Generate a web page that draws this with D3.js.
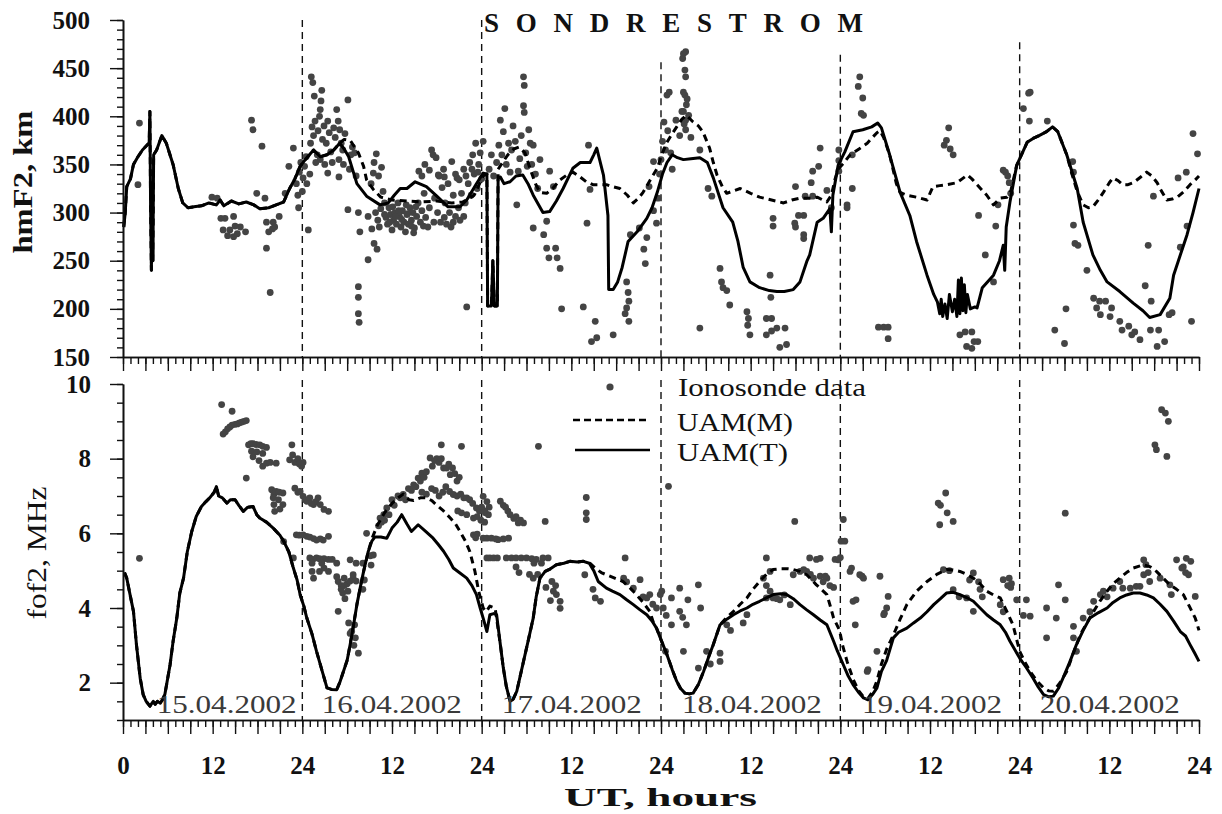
<!DOCTYPE html>
<html>
<head>
<meta charset="utf-8">
<script src="https://cdn.jsdelivr.net/npm/d3@7"></script>
<style>
  html,body{margin:0;padding:0;background:#fff;}
  svg{display:block;}
  text{font-family:'Liberation Serif','Times New Roman',serif;}
</style>
</head>
<body>
<svg id="chart" width="1222" height="814"></svg>
<script>
// ---------------- DATA ----------------
const dayBoundaries = [24, 48, 72, 96, 120];
const dayLineTopKm = [500, 500, 456, 464, 477];
const dateLabels = ["15.04.2002","16.04.2002","17.04.2002","18.04.2002","19.04.2002","20.04.2002"];
const dateLabelHours = [4.5, 26.6, 50.7, 74.8, 98.9, 122.7];
const xLabelHours = [0,12,24,36,48,60,72,84,96,108,120,132,144];
const hmTicks = [150,200,250,300,350,400,450,500];
const foTicks = [2,4,6,8,10];

// UAM(T) hmF2 [UT hour, km]
const uamT_hmF2 = [
[0.1,285],[0.3,300],[0.5,327],[1.0,335],[1.4,350],[2.0,358],[2.6,365],[3.2,370],[3.5,372],[3.6,405],[3.7,300],[3.8,240],[3.9,330],[4.0,250],[4.1,360],[4.5,365],[5.2,380],[5.8,372],[6.7,350],[7.4,325],[8.0,310],[8.7,305],[9.5,306],[10.5,307],[11.5,310],[12.5,308],[13.0,313],[13.5,307],[14.5,312],[15.5,309],[16.5,311],[17.5,308],[18.3,304],[19.5,305],[20.5,308],[21.5,311],[22.3,325],[23.0,335],[23.7,348],[24.5,356],[25.5,365],[26.4,358],[27.3,360],[28.2,365],[29.0,372],
[29.6,366],[30.2,358],[31.3,330],[32.6,317],[34.4,308],[35.5,310],[36.3,318],[37.1,325],[38.0,325],[39.1,332],[40.6,327],[42.0,317],[43.5,306],[45.1,306],[46.0,313],[47.3,330],[48.2,341],[48.7,340],[48.8,203],[49.3,203],[49.5,250],[49.7,203],[50.1,203],[50.2,336],[50.5,337],[51.0,330],[51.8,332],[52.6,338],[53.5,339],[54.2,330],[54.9,318],[56.2,300],[57.1,301],[58.0,312],[58.9,325],[60.2,346],[61.2,352],[62.5,352],[63.0,360],[63.4,367],[64.3,339],[64.9,297],[65.0,220],[65.6,220],[66.2,228],[66.8,243],[67.6,270],[68.8,280],[70.1,294],[70.8,305],[71.5,321],[72.2,340],[72.8,352],[73.5,360],[74.2,357],[75.0,355],[76.0,356],[77.2,357],[78.2,352],[79.0,336],[80.3,305],[81.6,290],[82.3,270],[83.0,243],[83.9,228],[85.2,222],[86.5,219],[87.5,218],[88.5,218],[89.7,220],[90.6,228],[91.5,249],[91.9,256],[92.9,290],[93.7,294],[94.6,304],[94.8,280],[95.0,318],[95.7,349],[96.6,363],[97.7,384],[99.0,386],[100.2,389],[101.0,393],[101.5,388],[102.6,360],[104.0,321],[105.3,297],[106.2,270],[107.6,235],[108.5,215],[109.0,207],[109.3,195],[109.5,210],[109.7,192],[110.0,205],[110.3,190],[110.6,215],[111.0,197],[111.3,210],[111.6,192],[111.8,230],[112.0,195],[112.2,232],[112.4,198],[112.6,225],[112.8,196],[113.0,215],[113.4,200],[114.0,202],[114.3,201],[115.0,222],[116.5,235],[117.3,250],[117.8,266],[118.0,240],[118.2,285],[118.7,311],[119.6,349],[121.0,373],[121.8,377],[122.6,380],[123.6,384],[124.4,389],[125.1,384],[126.3,360],[127.7,325],[128.5,290],[129.8,256],[130.8,240],[131.7,228],[133.4,218],[135.2,206],[136.5,198],[137.4,191],[138.8,194],[140.1,211],[140.6,235],[141.2,249],[142.4,277],[143.2,300],[144,325]
];

// UAM(M) hmF2
const uamM_hmF2 = [
[0.1,285],[0.3,300],[0.5,327],[1.0,335],[1.4,350],[2.0,358],[2.6,365],[3.2,370],[3.5,372],[3.6,405],[3.7,300],[3.8,240],[3.9,330],[4.0,250],[4.1,360],[4.5,365],[5.2,380],[5.8,372],[6.7,350],[7.4,325],[8.0,310],[8.7,305],[9.5,306],[10.5,307],[11.5,310],[12.5,308],[13.0,313],[13.5,307],[14.5,312],[15.5,309],[16.5,311],[17.5,308],[18.3,304],[19.5,305],[20.5,308],[21.5,311],[22.3,325],[23.0,335],[23.7,348],[24.5,356],[25.5,365],[26.4,358],[27.3,360],[28.2,365],[29.0,372],
[29.6,376],[30.4,375],[31.5,362],[32.2,348],[32.6,334],[33.5,324],[34.5,316],[36.0,313],[38.0,312],[40.0,311],[42.0,312],[44.0,310],[45.5,311],[47.0,318],[48.2,338],[48.7,340],[48.8,203],[49.3,203],[49.5,250],[49.7,203],[50.1,203],[50.2,345],[50.8,352],[51.5,360],[52.3,366],[53.0,368],[53.8,362],[54.5,345],[55.2,330],[55.8,321],[56.7,320],[57.5,325],[58.5,334],[59.4,339],[60.2,342],[61.0,338],[62.0,332],[62.9,329],[64.0,329],[64.7,329],[65.5,327],[66.5,325],[67.5,318],[68.3,310],[69.0,315],[69.6,321],[70.5,333],[71.5,346],[72.2,362],[72.8,373],[73.5,382],[74.1,389],[74.8,397],[75.4,401],[76.3,394],[77.0,390],[77.6,384],[78.5,367],[79.0,352],[79.5,339],[80.2,327],[80.8,320],[81.5,322],[82.6,325],[84.0,320],[85.2,316],[86.8,313],[88.4,310],[89.5,313],[90.6,315],[92.0,315],[92.9,316],[94.2,311],[94.8,318],[95.3,335],[95.7,345],[96.5,352],[97.3,360],[98.5,366],[99.6,372],[100.3,378],[100.9,383],[101.3,385],[101.8,378],[102.6,360],[103.5,330],[104.0,321],[104.9,318],[106.2,316],[107.6,313],[108.4,327],[109.3,328],[110.3,329],[111.6,331],[112.3,335],[113.0,339],[113.6,335],[114.3,329],[115.0,323],[115.6,318],[116.5,308],[117.4,315],[118.3,316],[118.8,322],[119.6,349],[121.0,373],[121.8,377],[122.6,380],[123.6,384],[124.4,389],[125.1,384],[126.3,360],[127.0,340],[127.7,322],[128.5,308],[129.2,305],[129.8,306],[130.5,313],[131.2,321],[132.0,331],[132.5,336],[133.2,333],[133.8,329],[134.5,329],[135.2,331],[136.2,337],[137.0,342],[137.7,338],[138.4,331],[139.0,322],[139.7,313],[140.4,314],[141.1,316],[142.0,322],[142.8,329],[143.5,334],[144,338]
];

// Ionosonde hmF2
const iono_hmF2 = [
[2.2,393],[2.0,329],
[11.9,316],[12.6,315],[13.1,294],[13.65,294],[14.8,296],[13.4,282],[14.3,282],[14.8,275],[15.3,278],[15.7,285],[16.4,280],[14.0,276],[15.0,286],
[17.2,396],[17.4,386],[18.6,369],[17.9,320],[19.0,315],[19.2,290],[20.1,290],[20.3,285],[20.9,296],[19.2,263],[19.7,217],[19.5,280],[20.0,283],[21.7,320],[22.2,348],[22.8,367],
[23.2,330],[23.4,318],[23.5,305],[23.6,342],[23.8,352],[24.0,322],[24.1,336],[24.3,348],[24.5,358],[24.6,330],[24.8,282],[25.0,340],[25.1,372],[25.2,441],[25.3,389],[25.4,435],[25.5,380],[25.6,421],[25.7,395],[25.8,352],[26.0,360],[26.1,385],[26.3,400],[26.4,407],[26.5,416],[26.6,427],[26.7,376],[26.9,390],[27.0,350],[27.2,372],[27.4,395],[27.6,383],[27.8,363],[28.0,352],[28.2,388],[28.4,378],[28.6,407],[28.8,395],[29.0,386],[29.2,372],[29.4,365],[29.5,350],[29.7,382],[30.1,417],[30.3,345],[30.5,360],[30.7,368],[31.0,362],[31.2,338],[26.4,355],[27.4,341],[28.9,355],[28.9,337],
[30.1,303],[31.5,300],[31.7,280],[31.5,223],[31.5,212],[31.5,195],[31.6,186],
[32.8,296],[32.8,251],[33.2,330],[33.5,341],[33.6,352],[33.9,361],[34.2,338],[34.6,347],[34.8,322],[35.0,310],[35.2,295],[35.4,288],[35.6,305],[35.8,298],[36.0,282],[36.2,292],[36.4,300],[36.6,288],[36.8,310],[37.0,296],[37.2,285],[37.4,302],[37.6,290],[37.8,280],[38.0,298],[38.2,288],[38.4,305],[38.6,292],[38.8,300],[39.0,284],[39.3,296],[39.5,310],[39.8,290],[40.0,302],[36.1,306],[37.9,308],[38.9,279],
[33.8,300],[34.1,292],[34.5,304],[35.0,298],[35.7,290],[36.5,296],[37.3,293],[38.1,299],[38.6,286],[39.2,306],[34.3,285],[36.9,302],[33.6,268],[34.0,262],[33.3,283],
[40.3,320],[40.5,295],[40.8,285],[41.0,305],[41.3,365],[41.5,360],[41.7,315],[41.9,357],[42.1,300],[42.3,338],[42.5,290],[42.7,326],[42.9,345],[43.1,310],[43.3,288],[43.5,330],[43.7,300],[43.9,285],[44.0,353],[44.2,318],[44.5,296],[44.7,336],[44.9,305],[45.1,292],[45.3,320],[45.6,345],[45.8,310],[46.0,202],[46.2,330],[46.4,352],[46.6,318],[46.8,360],[47.0,340],[47.2,372],[47.4,325],[47.6,350],[47.8,362],[48.0,335],[48.2,374],
[39.6,343],[40.0,338],[40.4,350],[41.0,344],[42.2,339],[43.0,337],[44.5,340],[45.0,334],[45.9,338],[46.7,345],[47.5,342],[40.2,286],[41.6,290],[43.0,295],[44.2,290],[45.6,296],
[49.0,345],[49.3,360],[49.6,338],[50.0,352],[50.3,370],[50.5,396],[50.7,360],[50.9,384],[51.1,408],[51.3,350],[51.6,372],[51.8,342],[52.0,365],[52.2,390],[52.5,374],[52.7,308],[52.9,343],[53.1,356],[53.3,380],[53.6,441],[53.7,432],[53.6,411],[53.7,404],[53.9,362],[54.1,348],[54.3,386],[54.5,372],[54.7,350],[54.9,370],[54.9,284],[55.2,340],[55.5,325],[55.8,355],
[56.3,277],[56.7,291],[56.7,263],[57.0,253],[57.1,343],[57.6,327],[57.9,263],[58.1,253],[58.5,242],[58.7,200],[61.6,202],[62.3,370],[62.5,324],[62.1,289],[63.2,187],[62.7,166],[63.4,170],[65.6,173],
[67.4,228],[67.6,217],[67.7,208],[67.4,201],[67.2,195],[67.7,187],[67.9,277],[69.1,284],[70.1,274],[69.9,247],[69.7,262],[71.0,353],[71.0,302],[71.4,289],[70.4,327],[71.6,315],
[71.8,340],[72.0,355],[72.2,374],[72.4,394],[72.6,365],[72.8,422],[72.9,385],[73.1,425],[73.3,362],[73.5,345],[74.0,396],[74.5,380],[74.8,405],[75.0,465],[75.3,467],[74.9,460],[75.2,448],[75.3,441],[75.2,422],[75.0,425],[75.5,418],[75.4,412],[75.0,405],[75.3,396],[75.7,401],[75.3,386],[75.1,392],[76.0,378],[77.2,365],[78.3,325],[78.8,317],[77.2,180],
[79.9,242],[80.1,228],[80.3,222],[80.8,219],[81.2,204],[83.5,197],[83.7,190],[83.6,183],[83.9,173],[86.1,190],[86.8,190],[86.1,173],[86.8,177],[87.5,180],[88.6,180],[88.8,163],[87.9,160],[86.6,235],[86.7,212],[87.0,294],[87.0,286],[90.0,327],[89.9,289],[90.0,285],[90.4,297],[91.1,273],[92.1,331],
[93.3,367],[93.1,348],[92.3,343],[91.3,317],[92.3,317],[91.1,297],[91.1,277],[94.2,323],[94.8,305],[95.8,365],[95.8,354],[95.8,343],[96.9,308],[96.9,305],[97.6,360],[97.6,325],[98.6,441],[98.4,431],[99.0,419],[98.8,403],[99.1,401],[101.1,181],[101.8,181],[102.4,181],[102.4,169],
[110.5,388],[110.2,375],[109.9,370],[110.7,366],[111.1,360],[112.0,173],[112.7,176],[113.6,176],[113.9,166],[112.9,161],[113.6,159],[114.4,166],[114.5,297],[115.4,256],[116.5,228],[116.8,286],[117.1,308],[117.8,344],[118.1,342],[118.4,338],[118.6,331],[118.8,320],[120.5,408],[121.2,424],[121.4,425],[121.3,395],[123.7,395],[124.7,178],[126.0,164],[126.2,200],[127.2,287],[127.4,268],[127.8,266],[127.1,353],[127.2,342],
[129.0,240],[129.9,211],[130.7,208],[130.3,201],[130.8,194],[131.5,208],[132.3,201],[132.1,192],[133.4,187],[133.7,178],[134.6,182],[135.0,173],[135.4,176],[136.1,168],[137.5,178],[138.6,178],[138.4,161],[139.4,166],[137.2,266],[136.8,224],[137.6,208],[140.0,194],[140.4,196],[143.0,187],[141.2,336],[142.3,342],[143.2,382],[143.8,361],[142.4,286],[141.5,264],[137.9,317]
];

// UAM(T) foF2 [UT hour, MHz]
const uamT_foF2 = [
[0.2,4.95],[0.5,4.8],[0.9,4.4],[1.4,3.91],[1.8,3.02],[2.3,2.12],[2.7,1.68],[3.1,1.5],[3.6,1.37],[4.05,1.5],[4.3,1.42],[4.6,1.5],[5.0,1.45],[5.3,1.55],[5.6,1.68],[6.3,2.48],[6.7,3.1],[7.2,3.73],[7.6,4.4],[8.1,4.8],[8.6,5.5],[9.2,6.05],[9.8,6.45],[10.5,6.72],[11.1,6.85],[11.6,6.95],[12.2,7.1],[12.5,7.25],[12.8,7.0],[13.3,6.95],[13.9,6.81],[14.4,6.9],[15.0,6.9],[15.5,6.75],[16.1,6.59],[16.7,6.7],[17.4,6.72],[17.9,6.5],[18.3,6.41],[19.2,6.3],[20.1,6.14],[21.0,5.95],[21.5,5.79],[22.2,5.5],[22.8,5.07],[23.3,4.75],[23.7,4.36],[24.2,4.05],[24.6,3.73],[25.3,3.3],[25.9,2.84],[26.6,2.35],[27.3,1.86],[27.9,1.82],[28.6,1.81],[29.0,2.0],[29.5,2.3],[30.0,2.6],[30.4,3.02],[30.9,3.6],[31.3,4.09],[31.8,4.6],[32.2,4.98],
[32.8,5.5],[33.3,5.79],[33.7,5.9],[34.5,5.9],[35.3,5.87],[36.0,6.14],[36.7,6.3],[37.3,6.5],[38.0,6.25],[38.6,6.05],[39.5,6.23],[40.5,6.05],[41.5,5.87],[42.2,5.7],[42.9,5.52],[43.6,5.3],[44.2,5.07],[45.0,4.95],[46.0,4.8],[46.7,4.6],[47.3,4.36],[47.8,4.0],[48.2,3.73],[48.7,3.37],[49.1,3.82],[49.6,3.85],[50.0,3.82],
[50.5,3.02],[50.9,2.39],[51.3,1.9],[51.8,1.5],[52.2,1.55],[52.7,1.77],[53.6,2.57],[54.2,3.1],[54.9,3.73],[55.3,4.3],[55.8,4.8],[56.5,4.98],[57.2,5.05],[58.0,5.16],[59.0,5.2],[59.8,5.25],[60.8,5.23],[61.6,5.25],[62.4,5.2],
[63.0,5.0],[63.6,4.71],[64.7,4.53],[65.5,4.45],[66.5,4.36],[67.4,4.22],[68.3,4.09],[69.2,3.95],[70.1,3.82],[70.8,3.65],[71.4,3.46],
[72.1,3.1],[72.8,2.75],[73.5,2.35],[74.1,2.04],[74.6,1.85],[75.2,1.72],[75.8,1.7],[76.3,1.72],[77.0,1.95],[77.7,2.3],[78.4,2.7],[79.0,3.02],[79.9,3.55],
[80.8,3.7],[81.7,3.82],[82.6,3.92],[83.5,4.0],[84.3,4.1],[85.2,4.18],[86.1,4.27],[87.0,4.36],[88.0,4.38],[88.8,4.36],[89.7,4.25],[90.6,4.09],[91.5,3.95],[92.4,3.82],[93.3,3.68],[94.2,3.55],[95.1,3.11],[95.6,2.85],[96.4,2.48],[97.0,2.2],[97.7,1.95],[98.4,1.75],[99.1,1.59],[99.7,1.54],[100.3,1.68],[100.9,1.86],[101.5,2.3],[102.2,2.6],[103.1,3.2],[103.8,3.35],[104.9,3.46],[105.8,3.6],[106.7,3.73],[107.6,3.9],[108.5,4.09],[109.4,4.25],[110.2,4.4],[111.1,4.42],[112.0,4.36],[112.9,4.28],[113.8,4.18],[114.7,4.0],[115.6,3.82],[116.5,3.68],[117.4,3.55],[118.1,3.35],[118.7,3.11],[119.3,2.9],[120.0,2.66],[120.9,2.4],[121.8,2.12],[122.5,1.88],[123.2,1.68],[123.9,1.62],[124.5,1.64],[125.2,1.85],[125.8,2.12],[126.7,2.55],[127.6,3.02],[128.5,3.4],[129.4,3.73],[130.5,3.87],[131.7,4.0],[132.5,4.15],[133.4,4.27],[134.3,4.35],[135.2,4.4],[136.1,4.4],[137.0,4.35],[137.9,4.27],[138.8,4.1],[139.7,3.91],[140.6,3.65],[141.5,3.37],[142.2,3.25],[142.8,3.02],[143.4,2.8],[144,2.57]
];

// UAM(M) foF2
const uamM_foF2 = [
[0.2,4.95],[0.5,4.8],[0.9,4.4],[1.4,3.91],[1.8,3.02],[2.3,2.12],[2.7,1.68],[3.1,1.5],[3.6,1.37],[4.05,1.5],[4.3,1.42],[4.6,1.5],[5.0,1.45],[5.3,1.55],[5.6,1.68],[6.3,2.48],[6.7,3.1],[7.2,3.73],[7.6,4.4],[8.1,4.8],[8.6,5.5],[9.2,6.05],[9.8,6.45],[10.5,6.72],[11.1,6.85],[11.6,6.95],[12.2,7.1],[12.5,7.25],[12.8,7.0],[13.3,6.95],[13.9,6.81],[14.4,6.9],[15.0,6.9],[15.5,6.75],[16.1,6.59],[16.7,6.7],[17.4,6.72],[17.9,6.5],[18.3,6.41],[19.2,6.3],[20.1,6.14],[21.0,5.95],[21.5,5.79],[22.2,5.5],[22.8,5.07],[23.3,4.75],[23.7,4.36],[24.2,4.05],[24.6,3.73],[25.3,3.3],[25.9,2.84],[26.6,2.35],[27.3,1.86],[27.9,1.82],[28.6,1.81],[29.0,2.0],[29.5,2.3],[30.0,2.6],[30.4,3.02],[30.9,3.6],[31.3,4.09],[31.8,4.6],[32.2,4.98],
[32.8,5.5],[33.3,5.85],[34.0,6.2],[35.0,6.55],[36.0,6.8],[36.8,6.95],[37.5,7.05],[38.3,6.9],[38.9,6.88],[39.8,6.95],[40.6,6.95],[41.3,6.88],[41.9,6.77],[42.9,6.6],[43.8,6.41],[44.5,6.25],[45.1,6.05],[45.8,5.8],[46.4,5.52],[47.1,4.98],[47.6,4.45],[48.2,4.0],[48.6,3.9],[49.1,4.05],[49.8,4.0],
[50.5,3.02],[50.9,2.39],[51.3,1.9],[51.8,1.5],[52.2,1.55],[52.7,1.77],[53.6,2.57],[54.2,3.1],[54.9,3.73],[55.3,4.3],[55.8,4.8],[56.5,4.98],[57.2,5.05],[58.0,5.16],[59.0,5.2],[59.8,5.25],[60.8,5.23],[61.6,5.25],[62.4,5.22],
[63.3,5.05],[64.0,4.95],[64.7,4.89],[65.8,4.8],[66.9,4.71],[67.8,4.55],[68.7,4.36],[69.6,4.15],[70.5,3.91],[71.0,3.6],[71.4,3.46],
[72.1,3.1],[72.8,2.75],[73.5,2.35],[74.1,2.04],[74.6,1.85],[75.2,1.72],[75.8,1.7],[76.3,1.72],[77.0,1.95],[77.7,2.3],[78.4,2.7],[79.0,3.02],[79.9,3.55],
[80.8,3.75],[81.7,3.91],[82.6,4.1],[83.5,4.27],[84.3,4.5],[85.2,4.71],[86.1,4.9],[87.0,5.03],[88.0,5.05],[89.0,5.05],[89.7,5.03],[90.6,4.98],[91.5,4.89],[92.8,4.62],[93.3,4.53],[94.2,4.36],[94.6,4.09],[95.1,3.73],[95.9,3.4],[96.3,3.0],[96.9,2.57],[97.7,2.1],[98.4,1.8],[99.1,1.62],[99.7,1.58],[100.3,1.75],[100.9,2.05],[101.5,2.5],[102.2,2.9],[103.1,3.28],[104.0,3.7],[104.9,4.09],[106.2,4.45],[107.6,4.71],[108.9,4.9],[110.2,5.03],[111.1,5.02],[112.0,4.98],[112.9,4.9],[113.8,4.8],[114.7,4.65],[115.6,4.45],[116.5,4.35],[117.4,4.27],[118.3,3.9],[119.1,3.55],[120.0,2.84],[120.7,2.55],[121.4,2.3],[122.3,2.05],[123.2,1.86],[123.9,1.78],[124.5,1.77],[125.4,2.0],[126.3,2.3],[127.2,2.8],[128.1,3.28],[129.0,3.6],[129.9,3.91],[130.8,4.2],[131.7,4.45],[132.5,4.65],[133.4,4.8],[134.3,4.95],[135.2,5.07],[136.0,5.12],[136.6,5.16],[137.5,5.1],[138.3,4.98],[139.2,4.8],[140.1,4.62],[141.0,4.5],[141.9,4.36],[142.7,4.05],[143.5,3.73],[144,3.4]
];

// Ionosonde foF2
const iono_foF2 = [
[2.2,5.33],
[13.2,9.45],[14.6,9.27],[13.4,8.66],[13.7,8.72],[14.0,8.8],[14.3,8.85],[14.6,8.9],[15.0,8.92],[15.3,8.93],[15.6,8.96],[15.9,8.98],[16.2,9.0],[16.5,9.02],
[16.5,7.48],[16.8,8.37],[17.1,8.4],[17.4,8.4],[17.8,8.38],[18.3,8.37],[18.7,8.33],[19.2,8.3],[17.2,8.2],[17.4,8.05],[17.9,8.18],[18.2,7.95],[18.7,8.14],[18.7,7.8],[19.2,7.88],[20.5,7.88],[19.7,7.9],
[19.9,7.17],[20.2,7.05],[20.5,7.12],[20.9,7.1],[21.4,7.08],[20.1,6.95],[20.8,6.9],[20.2,6.77],[21.4,6.77],[20.3,6.59],[21.0,6.65],
[22.3,7.97],[22.6,8.37],[22.7,8.1],[23.0,7.9],[23.4,8.0],[23.6,7.86],[23.9,7.8],[24.1,7.9],
[23.0,7.21],[23.4,7.1],[23.7,7.12],[24.1,6.99],[24.4,6.9],[24.6,6.86],[25.0,6.95],[25.5,6.77],[25.8,6.85],[26.1,6.95],[26.4,6.77],[26.9,6.64],[27.5,6.59],[25.2,6.8],
[21.5,5.78],[22.8,5.34],[23.2,5.96],[23.6,5.95],[24.1,5.96],[24.6,5.92],[25.0,5.9],[25.9,5.82],[26.4,5.85],[26.8,5.82],[27.5,5.92],[25.5,5.86],
[25.0,5.34],[25.4,5.3],[25.9,5.34],[26.3,5.32],[26.9,5.32],[27.5,5.3],[28.0,5.3],[28.6,5.2],[25.3,5.2],[26.6,5.2],
[25.3,4.98],[25.5,4.8],[26.3,4.98],[26.9,5.07],[27.5,4.98],
[28.8,4.71],[29.2,4.6],[29.6,4.8],[30.0,4.65],[30.4,4.72],[30.8,4.8],[29.4,4.4],[29.7,4.25],[30.1,4.45],[31.2,4.72],[30.8,4.89],[28.6,4.84],[29.2,4.5],[29.6,4.6],
[30.4,5.29],[31.2,5.2],[32.1,5.2],[33.5,5.42],[32.3,4.75],[32.1,4.5],
[28.8,3.91],[30.2,3.6],[31.0,3.55],[30.6,3.37],[31.1,3.2],[30.4,3.32],[31.5,2.79],[30.9,3.0],
[32.6,6.0],[33.1,5.4],[33.2,5.15],
[34.2,6.2],[34.4,6.41],[34.6,6.3],[34.9,6.5],[35.3,6.68],[35.6,6.5],[35.0,6.35],[36.0,6.9],[36.3,6.75],[36.8,7.0],[37.1,6.95],[37.5,7.04],[37.8,6.9],[38.2,7.2],[38.6,7.15],[38.9,7.3],[39.2,7.25],[39.5,7.48],[39.8,7.4],[40.0,7.61],[40.3,7.5],[40.6,7.65],[41.1,8.02],[41.4,7.8],[41.7,7.95],[42.0,8.0],[42.3,7.9],[42.6,8.37],[42.6,8.0],[42.9,7.75],[43.3,7.75],[43.6,7.85],[43.8,7.57],[44.1,7.75],[44.4,7.6],[45.3,8.33],[44.7,7.4],[45.0,7.5],
[40.0,7.1],[40.6,7.05],[41.3,7.2],[41.8,7.15],[42.3,7.0],[42.8,7.1],[43.2,7.25],[43.7,7.12],[44.2,7.04],[44.7,7.0],[45.2,7.05],[45.6,6.95],[46.0,6.95],[46.4,6.9],[46.8,6.8],[47.3,6.68],[47.7,6.6],[48.0,6.7],[48.5,6.55],
[44.8,6.6],[45.3,6.55],[46.0,6.5],[46.9,6.41],[47.4,6.45],[47.9,6.35],[48.4,6.3],
[46.9,5.96],[47.4,5.98],[47.2,5.88],[48.2,5.87],[48.7,5.87],[49.3,5.87],[49.9,5.85],[50.2,5.83],[50.9,5.85],[51.6,5.87],
[48.7,5.34],[49.1,5.34],[49.6,5.34],[50.1,5.34],[51.3,5.34],[52.0,5.34],[52.6,5.34],[53.3,5.34],[54.0,5.34],[54.7,5.32],[55.3,5.3],[56.2,5.34],[56.9,5.34],[55.0,5.2],[56.0,5.2],
[48.2,6.99],[48.7,6.85],[49.0,6.7],[48.9,6.5],[48.4,6.6],[50.5,6.86],[50.9,6.75],[51.5,6.6],[51.8,6.5],[52.3,6.4],[52.9,6.28],[53.6,6.28],[53.2,6.35],[51.2,6.7],[52.6,6.45],
[52.6,5.1],[53.0,4.95],[54.9,4.8],[54.4,4.9],[55.5,4.9],[57.4,4.71],[57.6,4.45],[58.0,4.36],[57.2,4.2],[58.5,4.18],[58.5,3.99],[57.9,4.6],[56.6,4.55],
[55.6,8.33],[56.5,6.32],
[62.0,6.96],[62.0,6.55],[62.0,6.37],
[61.8,4.89],[63.2,4.27],[63.9,4.18],[62.9,4.5],
[67.2,5.34],[67.0,4.8],[67.4,4.7],[68.3,4.53],[69.2,4.76],[69.6,4.3],[70.1,4.27],[70.5,4.36],[70.9,4.1],[71.4,4.0],[71.9,4.36],[72.1,4.45],[72.3,4.0],[72.7,3.8],
[73.4,4.27],[74.5,4.53],[73.4,3.55],[74.5,3.91],[74.9,3.75],[75.4,3.55],[77.0,4.62],[75.6,4.22],[77.3,4.0],[75.0,2.84],[77.0,2.39],[78.1,2.84],[79.9,2.79],[79.9,2.57],[78.6,2.5],[72.6,2.84],
[73.0,7.26],
[80.8,3.55],[81.3,3.4],[83.5,3.82],[83.0,3.6],
[86.1,5.34],[85.7,4.8],[86.1,4.6],[86.6,4.45],[86.1,4.27],[87.0,4.27],[87.9,4.22],[89.3,4.09],[88.5,4.35],[86.6,4.98],[87.5,4.25],
[89.9,6.32],
[89.7,4.89],[90.6,4.98],[91.5,4.98],[92.4,4.8],[93.3,4.85],[94.2,4.8],[94.6,4.6],[95.1,4.55],[91.9,5.34],[93.3,5.33],[92.8,5.3],[91.1,5.03],[92.0,4.9],[93.7,4.7],[94.0,4.85],
[95.7,5.29],[95.3,5.3],[96.1,5.79],[96.6,5.79],[96.4,6.37],[96.0,5.35],
[97.7,4.18],[98.0,3.55],[97.3,4.98],[97.5,5.07],[98.6,4.89],[98.9,4.85],[99.1,4.8],[101.3,4.85],[102.2,4.0],[102.4,4.31],[101.9,3.86],[101.8,3.82],[99.6,2.3],[99.7,2.35],[100.9,2.84],[98.1,4.22],
[109.1,6.81],[110.1,7.08],[110.3,6.55],[111.1,6.32],[109.3,6.23],[109.4,6.75],
[109.8,5.03],[110.6,5.0],[111.1,4.49],[111.9,4.3],[112.9,4.27],[113.8,4.94],[114.5,4.7],[114.7,4.5],[113.8,3.91],[115.0,4.3],[113.3,4.75],
[117.8,4.76],[118.4,4.6],[118.8,4.55],[117.4,4.09],[117.8,3.9],[118.6,4.8],[118.9,4.65],
[119.6,4.22],[120.9,4.22],[121.4,3.78],[120.5,3.8],
[123.6,4.0],[123.6,3.2],[124.9,3.73],[125.2,4.62],[126.1,4.22],[126.1,6.54],
[127.2,3.51],[127.6,2.84],[127.2,3.2],
[128.5,3.73],[129.4,3.9],[129.9,4.18],[130.8,4.36],[131.2,4.45],[131.7,4.3],[132.5,4.53],[133.4,4.71],[133.8,4.53],[134.8,4.53],[135.6,4.58],[136.1,4.58],[136.6,4.89],[136.9,5.16],[136.6,5.29],[137.2,4.95],[137.4,4.71],[138.8,4.8],[140.1,4.62],[140.3,4.36],[141.0,5.29],[141.7,5.07],[142.3,5.33],[142.9,5.25],[142.6,4.89],[143.5,4.31],[141.9,5.1],[142.2,4.95],
[139.0,9.31],[139.5,9.22],[139.9,9.0],[138.1,8.37],[138.3,8.24],[139.7,8.06]
];

// ---------------- CHART ----------------
const svg = d3.select("#chart");
const FONT = "'Liberation Serif','Times New Roman',serif";

const x = d3.scaleLinear().domain([0,144]).range([123,1199]);
const yT = d3.scaleLinear().domain([150,500]).range([357,20]);
const yB = d3.scaleLinear().domain([1,10]).range([720,384]);

const lineT = d3.line().x(d=>x(d[0])).y(d=>yT(d[1]));
const lineB = d3.line().x(d=>x(d[0])).y(d=>yB(d[1]));

// day separator dashed lines
dayBoundaries.forEach((h,i)=>{
  svg.append("line").attr("x1",x(h)).attr("x2",x(h))
    .attr("y1",yT(dayLineTopKm[i])).attr("y2",yT(150))
    .attr("stroke","#111").attr("stroke-width",1.4).attr("stroke-dasharray","7,5");
  svg.append("line").attr("x1",x(h)).attr("x2",x(h))
    .attr("y1",yB(10)-4).attr("y2",yB(1))
    .attr("stroke","#111").attr("stroke-width",1.4).attr("stroke-dasharray","7,5");
});

// ionosonde points
svg.append("g").selectAll("circle").data(iono_hmF2).join("circle")
  .attr("cx",d=>x(d[0])).attr("cy",d=>yT(d[1])).attr("r",3.4).attr("fill","#444");
svg.append("g").selectAll("circle").data(iono_foF2).join("circle")
  .attr("cx",d=>x(d[0])).attr("cy",d=>yB(d[1])).attr("r",3.4).attr("fill","#444");

// model lines
function drawLines(M, T, gen){
  svg.append("path").datum(M).attr("d",gen).attr("fill","none")
    .attr("stroke","#000").attr("stroke-width",3).attr("stroke-dasharray","7,5").attr("stroke-linejoin","round");
  svg.append("path").datum(T).attr("d",gen).attr("fill","none")
    .attr("stroke","#000").attr("stroke-width",3).attr("stroke-linejoin","round");
}
drawLines(uamM_hmF2, uamT_hmF2, lineT);
drawLines(uamM_foF2, uamT_foF2, lineB);

// axes
function styleAxis(g){
  g.selectAll("path.domain").attr("stroke","#111").attr("stroke-width",1.6);
  g.selectAll(".tick line").attr("stroke","#111").attr("stroke-width",1.4);
  g.selectAll("text").attr("font-family",FONT).attr("font-weight","bold").attr("fill","#111");
}
const hourMinor = d3.range(0,145,1);
const hourMajor = d3.range(0,145,3);
[yT(150), yB(1)].forEach((yy,i)=>{
  svg.append("g").attr("transform",`translate(0,${yy})`)
    .call(d3.axisBottom(x).tickValues(hourMinor).tickSize(7).tickSizeOuter(0).tickFormat(""))
    .call(styleAxis);
  svg.append("g").attr("transform",`translate(0,${yy})`)
    .call(d3.axisBottom(x).tickValues(hourMajor).tickSize(14).tickSizeOuter(0).tickFormat(""))
    .call(styleAxis);
});
svg.append("g").attr("transform",`translate(0,${yB(1)})`)
  .call(d3.axisBottom(x).tickValues(xLabelHours).tickSize(0).tickSizeOuter(0).tickPadding(36)
    .tickFormat(h=> h===0 ? "0" : (h%24===0 ? "24" : "12")))
  .call(styleAxis)
  .call(g=>{g.select("path.domain").remove(); g.selectAll("text").attr("font-size",25);});

// y axes
svg.append("g").attr("transform",`translate(${x(0)},0)`)
  .call(d3.axisLeft(yT).tickValues(d3.range(150,501,10)).tickSize(6).tickSizeOuter(0).tickFormat(""))
  .call(styleAxis);
svg.append("g").attr("transform",`translate(${x(0)},0)`)
  .call(d3.axisLeft(yT).tickValues(hmTicks).tickSize(13).tickSizeOuter(0).tickPadding(20).tickFormat(d3.format("d")))
  .call(styleAxis).call(g=>g.selectAll("text").attr("font-size",25));
svg.append("g").attr("transform",`translate(${x(0)},0)`)
  .call(d3.axisLeft(yB).tickValues(d3.range(1,10.01,0.5)).tickSize(6).tickSizeOuter(0).tickFormat(""))
  .call(styleAxis);
svg.append("g").attr("transform",`translate(${x(0)},0)`)
  .call(d3.axisLeft(yB).tickValues(foTicks).tickSize(13).tickSizeOuter(0).tickPadding(19).tickFormat(d3.format("d")))
  .call(styleAxis).call(g=>g.selectAll("text").attr("font-size",25));

// date labels
svg.append("g").selectAll("text").data(dateLabels).join("text")
  .attr("x",(d,i)=>x(dateLabelHours[i])).attr("y",yB(1)-7)
  .attr("font-size",26).attr("fill","#3a3a3a")
  .attr("textLength",140).attr("lengthAdjust","spacingAndGlyphs")
  .text(d=>d);

// title
svg.append("text").attr("x",484).attr("y",32).attr("font-size",27).attr("font-weight","bold")
  .attr("textLength",379).attr("lengthAdjust","spacing").attr("fill","#111").text("SONDRESTROM");

// axis titles
svg.append("text").attr("transform","translate(32,182) rotate(-90)").attr("text-anchor","middle")
  .attr("font-size",27).attr("font-weight","bold").attr("fill","#111")
  .attr("textLength",143).attr("lengthAdjust","spacingAndGlyphs").text("hmF2, km");
svg.append("text").attr("transform","translate(46,553) rotate(-90)").attr("text-anchor","middle")
  .attr("font-size",27).attr("fill","#111")
  .attr("textLength",133).attr("lengthAdjust","spacingAndGlyphs").text("fof2, MHz");
svg.append("text").attr("x",564).attr("y",806)
  .attr("font-size",26).attr("font-weight","bold").attr("fill","#111")
  .attr("textLength",193).attr("lengthAdjust","spacingAndGlyphs").text("UT, hours");

// legend
const lg = svg.append("g");
lg.append("circle").attr("cx",610).attr("cy",387).attr("r",3.6).attr("fill","#444");
lg.append("text").attr("x",678).attr("y",396).attr("font-size",25).attr("fill","#111")
  .attr("textLength",188).attr("lengthAdjust","spacingAndGlyphs").text("Ionosonde data");
lg.append("line").attr("x1",573).attr("x2",650).attr("y1",420).attr("y2",420)
  .attr("stroke","#000").attr("stroke-width",2.4).attr("stroke-dasharray","7,4");
lg.append("text").attr("x",677).attr("y",431).attr("font-size",25).attr("fill","#111")
  .attr("textLength",116).attr("lengthAdjust","spacingAndGlyphs").text("UAM(M)");
lg.append("line").attr("x1",575).attr("x2",650).attr("y1",450).attr("y2",450)
  .attr("stroke","#000").attr("stroke-width",2.4);
lg.append("text").attr("x",677).attr("y",461).attr("font-size",25).attr("fill","#111")
  .attr("textLength",111).attr("lengthAdjust","spacingAndGlyphs").text("UAM(T)");
</script>
</body>
</html>
